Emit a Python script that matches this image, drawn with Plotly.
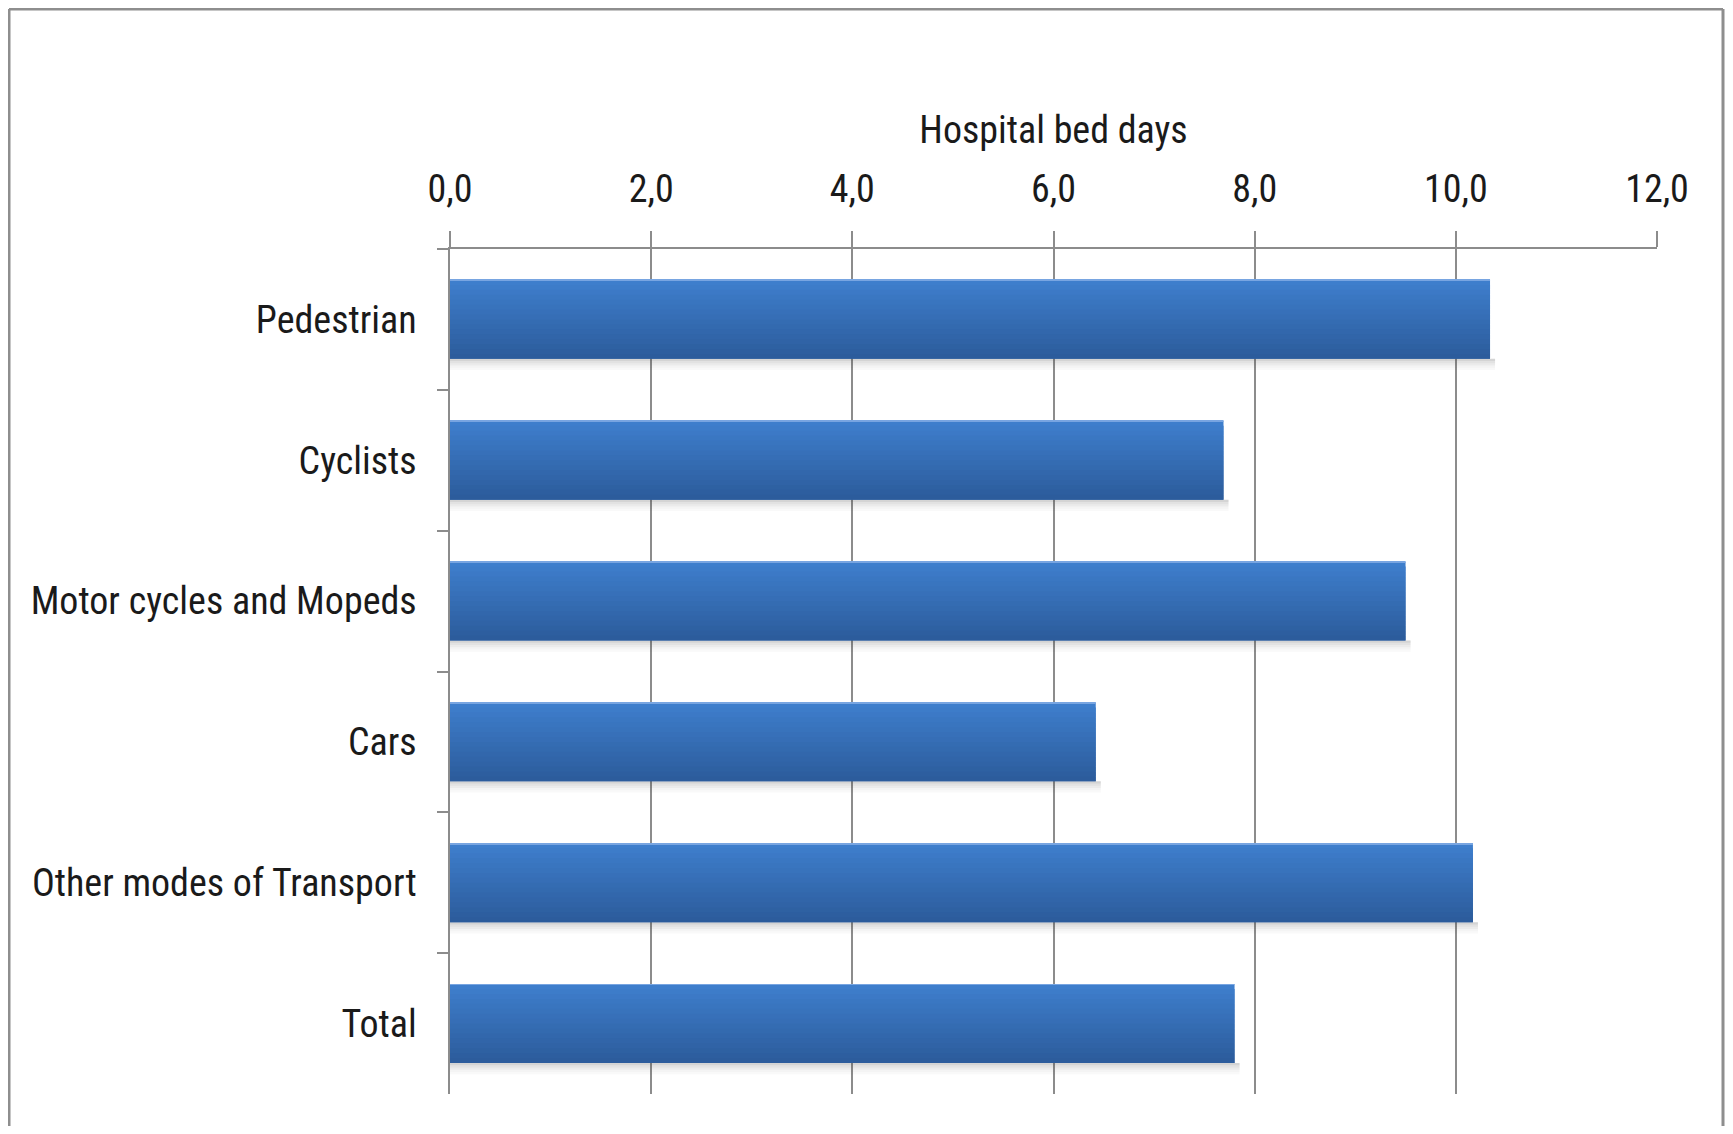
import plotly.graph_objects as go

categories = ["Pedestrian", "Cyclists", "Motor cycles and Mopeds", "Cars",
              "Other modes of Transport", "Total"]
values = [10.34, 7.69, 9.50, 6.42, 10.17, 7.80]
x_ticks = [0, 2, 4, 6, 8, 10, 12]
axis_title = "Hospital bed days"

FONT = "Liberation Sans Narrow, Arial Narrow, Roboto Condensed, sans-serif"
TXT = "#1a1a1a"
GRID = "#8c8c8c"

# page has an 8px body margin, so the figure is 16px smaller than the window
W, H = 1717, 1118
L, R, T, B = 442, 68, 241, 32

fig = go.Figure()

bar_w = 0.56
top_off = -bar_w / 2
n_slices = 16
c_top = (62, 126, 204)
c_bot = (44, 92, 156)

# soft shadow under each bar
shadow = [0.22, 0.15, 0.10, 0.06, 0.03]
sw = 0.016
for j, a in enumerate(shadow):
    fig.add_trace(go.Bar(
        y=categories, x=[v + 0.05 for v in values], orientation="h",
        width=sw, offset=top_off + bar_w + j * sw,
        marker=dict(color=f"rgba(60,60,60,{a})", line=dict(width=0)),
        hoverinfo="skip", showlegend=False))

# vertical gradient built from overlapping thin slices
sl = bar_w / n_slices
for i in range(n_slices):
    t = i / (n_slices - 1)
    c = tuple(round(c_top[k] + (c_bot[k] - c_top[k]) * t) for k in range(3))
    w = sl * 2 if i < n_slices - 1 else sl
    fig.add_trace(go.Bar(
        y=categories, x=values, orientation="h",
        width=w, offset=top_off + i * sl,
        marker=dict(color=f"rgb{c}", line=dict(width=0)),
        hoverinfo="skip" if i else "x+y", showlegend=False))

# light top edge
fig.add_trace(go.Bar(
    y=categories, x=values, orientation="h",
    width=0.006, offset=top_off,
    marker=dict(color="rgb(120,165,225)", line=dict(width=0)),
    hoverinfo="skip", showlegend=False))

pw, ph = W - L - R, H - T - B
bx0, bx1 = (1 - L) / pw, (1715 - L) / pw
by_top, by_bot = (H - B - 1) / ph, (H - B - 1200) / ph
border = dict(color="#8e8e8e", width=3)

fig.update_layout(
    width=W, height=H,
    margin=dict(l=L, r=R, t=T, b=B, autoexpand=False),
    paper_bgcolor="white", plot_bgcolor="white",
    barmode="overlay", separators=", ",
    font=dict(family=FONT, size=38, color=TXT),
    xaxis=dict(
        side="top", range=[0, 12], tickvals=x_ticks, tickformat=".1f",
        showgrid=True, gridcolor=GRID, gridwidth=1.5,
        showline=True, linecolor=GRID, linewidth=1.5,
        ticks="outside", ticklen=16, tickcolor=GRID, tickwidth=1.5,
        ticklabelstandoff=14,
        zeroline=False, fixedrange=True,
        tickfont=dict(family=FONT, size=38, color=TXT),
        title=dict(text=axis_title, standoff=12,
                   font=dict(family=FONT, size=38, color=TXT)),
    ),
    yaxis=dict(
        categoryorder="array", categoryarray=categories, autorange="reversed",
        showline=True, linecolor=GRID, linewidth=1.5,
        ticks="outside", tickson="boundaries", ticklen=11, tickcolor=GRID,
        tickwidth=1.5, ticklabelstandoff=24, showgrid=False,
        tickfont=dict(family=FONT, size=38, color=TXT), fixedrange=True,
    ),
    shapes=[
        dict(type="line", xref="paper", yref="paper", x0=bx0, x1=bx1,
             y0=by_top, y1=by_top, line=border, layer="below"),
        dict(type="line", xref="paper", yref="paper", x0=bx0, x1=bx0,
             y0=by_top, y1=by_bot, line=border, layer="below"),
        dict(type="line", xref="paper", yref="paper", x0=bx1, x1=bx1,
             y0=by_top, y1=by_bot, line=border, layer="below"),
    ],
)

fig.write_html("out.html")
